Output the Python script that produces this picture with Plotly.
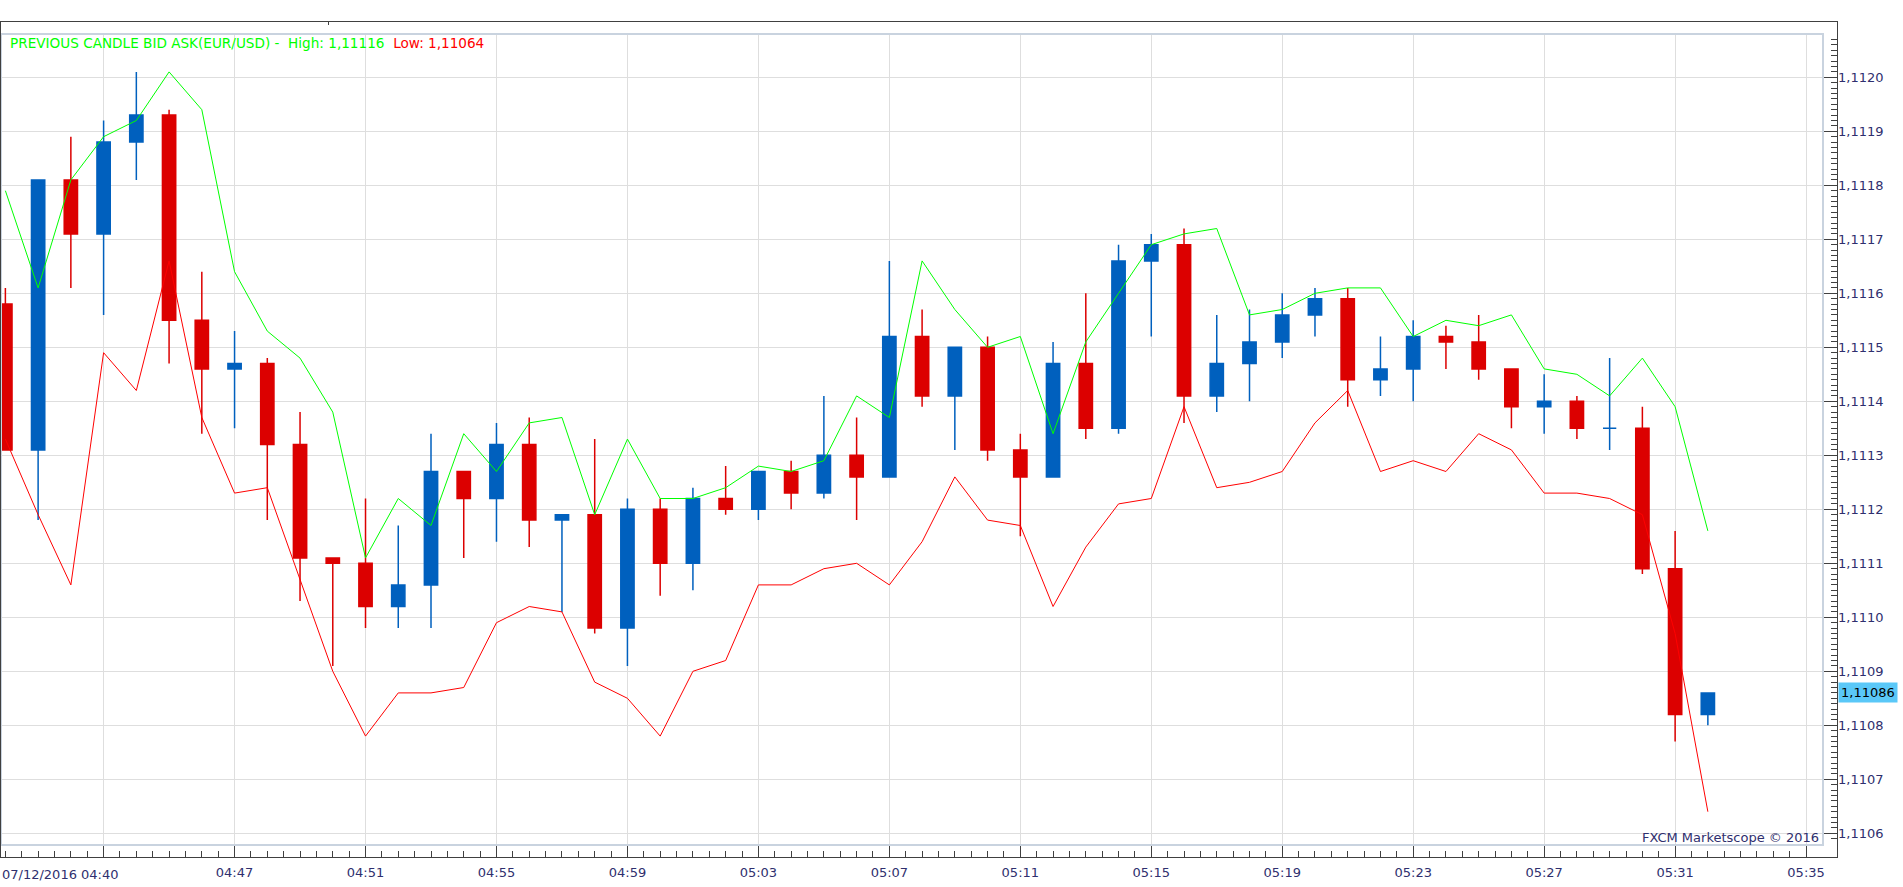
import plotly.graph_objects as go
import pandas as pd

# ---------------- data ----------------
DAY = "2016-07-12 "
times = ["04:40", "04:41", "04:42", "04:43", "04:44", "04:45", "04:46", "04:47", "04:48", "04:49",
         "04:50", "04:51", "04:52", "04:53", "04:54", "04:55", "04:56", "04:57", "04:58", "04:59",
         "05:00", "05:01", "05:02", "05:03", "05:04", "05:05", "05:06", "05:07", "05:08", "05:09",
         "05:10", "05:11", "05:12", "05:13", "05:14", "05:15", "05:16", "05:17", "05:18", "05:19",
         "05:20", "05:21", "05:22", "05:23", "05:24", "05:25", "05:26", "05:27", "05:28", "05:29",
         "05:30", "05:31", "05:32"]

open_ = [1.11158, 1.11131, 1.11181, 1.11171, 1.11188, 1.11193, 1.11155, 1.11146, 1.11147, 1.11132,
         1.11111, 1.11110, 1.11102, 1.11106, 1.11127, 1.11122, 1.11132, 1.11118, 1.11119, 1.11098,
         1.11120, 1.11110, 1.11122, 1.11120, 1.11127, 1.11123, 1.11130, 1.11126, 1.11152, 1.11141,
         1.11150, 1.11131, 1.11126, 1.11147, 1.11135, 1.11166, 1.11169, 1.11141, 1.11147, 1.11151,
         1.11156, 1.11159, 1.11144, 1.11146, 1.11152, 1.11151, 1.11146, 1.11139, 1.11140, 1.11135,
         1.11135, 1.11109, 1.11082]
high = [1.11161, 1.11181, 1.11189, 1.11192, 1.11201, 1.11194, 1.11164, 1.11153, 1.11148, 1.11138,
        1.11111, 1.11122, 1.11117, 1.11134, 1.11127, 1.11136, 1.11137, 1.11119, 1.11133, 1.11122,
        1.11122, 1.11124, 1.11128, 1.11127, 1.11129, 1.11141, 1.11137, 1.11166, 1.11157, 1.11150,
        1.11152, 1.11134, 1.11151, 1.11160, 1.11169, 1.11171, 1.11172, 1.11156, 1.11157, 1.11160,
        1.11161, 1.11161, 1.11152, 1.11155, 1.11154, 1.11156, 1.11146, 1.11145, 1.11141, 1.11148,
        1.11139, 1.11116, 1.11086]
low = [1.11131, 1.11118, 1.11161, 1.11156, 1.11181, 1.11147, 1.11134, 1.11135, 1.11118, 1.11103,
       1.11091, 1.11098, 1.11098, 1.11098, 1.11111, 1.11114, 1.11113, 1.11101, 1.11097, 1.11091,
       1.11104, 1.11105, 1.11119, 1.11118, 1.11120, 1.11122, 1.11118, 1.11126, 1.11139, 1.11131,
       1.11129, 1.11115, 1.11126, 1.11133, 1.11134, 1.11152, 1.11136, 1.11138, 1.11140, 1.11148,
       1.11152, 1.11139, 1.11141, 1.11140, 1.11146, 1.11144, 1.11135, 1.11134, 1.11133, 1.11131,
       1.11108, 1.11077, 1.11080]
close = [1.11131, 1.11181, 1.11171, 1.11188, 1.11193, 1.11155, 1.11146, 1.11147, 1.11132, 1.11111,
         1.11110, 1.11102, 1.11106, 1.11127, 1.11122, 1.11132, 1.11118, 1.11119, 1.11098, 1.11120,
         1.11110, 1.11122, 1.11120, 1.11127, 1.11123, 1.11130, 1.11126, 1.11152, 1.11141, 1.11150,
         1.11131, 1.11126, 1.11147, 1.11135, 1.11166, 1.11169, 1.11141, 1.11147, 1.11151, 1.11156,
         1.11159, 1.11144, 1.11146, 1.11152, 1.11151, 1.11146, 1.11139, 1.11140, 1.11135, 1.11135,
         1.11109, 1.11082, 1.11086]
# candles drawn in the "up" colour although open == close (doji)
doji_up = ["05:29"]

# PREVIOUS CANDLE BID ASK indicator lines
prev_high = [1.11179, 1.11161, 1.11181, 1.11189, 1.11192, 1.11201, 1.11194, 1.11164, 1.11153, 1.11148,
             1.11138, 1.11111, 1.11122, 1.11117, 1.11134, 1.11127, 1.11136, 1.11137, 1.11119, 1.11133,
             1.11122, 1.11122, 1.11124, 1.11128, 1.11127, 1.11129, 1.11141, 1.11137, 1.11166, 1.11157,
             1.11150, 1.11152, 1.11134, 1.11151, 1.11160, 1.11169, 1.11171, 1.11172, 1.11156, 1.11157,
             1.11160, 1.11161, 1.11161, 1.11152, 1.11155, 1.11154, 1.11156, 1.11146, 1.11145, 1.11141,
             1.11148, 1.11139, 1.11116]
prev_low = [1.11133, 1.11119, 1.11106, 1.11149, 1.11142, 1.11166, 1.11137, 1.11123, 1.11124, 1.11107,
            1.11090, 1.11078, 1.11086, 1.11086, 1.11087, 1.11099, 1.11102, 1.11101, 1.11088, 1.11085,
            1.11078, 1.11090, 1.11092, 1.11106, 1.11106, 1.11109, 1.11110, 1.11106, 1.11114, 1.11126,
            1.11118, 1.11117, 1.11102, 1.11113, 1.11121, 1.11122, 1.11139, 1.11124, 1.11125, 1.11127,
            1.11136, 1.11142, 1.11127, 1.11129, 1.11127, 1.11134, 1.11131, 1.11123, 1.11123, 1.11122,
            1.11119, 1.11097, 1.11064]

legend_high = "1,11116"
legend_low = "1,11064"
last_price = 1.11086
last_price_text = "1,11086"

tick_times = ["04:43", "04:47", "04:51", "04:55", "04:59", "05:03", "05:07", "05:11", "05:15",
              "05:19", "05:23", "05:27", "05:31", "05:35"]
tick_text = ["", "04:47", "04:51", "04:55", "04:59", "05:03", "05:07", "05:11", "05:15",
             "05:19", "05:23", "05:27", "05:31", "05:35"]
first_label = "07/12/2016 04:40"

# ---------------- styling / geometry ----------------
W, H = 1903, 887
X_PLOT_R, X_AXIS = 1823, 1837
Y_PLOT_T, Y_PLOT_B, Y_AXIS, Y_FRAME_T = 34, 845, 857, 21
PW, PH = X_AXIS, Y_AXIS - Y_PLOT_T

BLUE = "#0060be"
RED = "#dc0000"
GREEN_LINE = "#00ff00"
RED_LINE = "#ff0000"
NAVY = "#2f2f6e"
FRAME = "#404040"
INNER = "#c9d3df"
GRID = "#dedede"
FONT = "DejaVu Sans"
FS = 13
FS_LEGEND = 13.6


def px_x(x):
    return x / PW


def px_y(y):
    return (Y_AXIS - y) / PH


x = [pd.Timestamp(DAY + t) for t in times]
t_first = pd.Timestamp(DAY + times[0])
PX_PER_MIN = 32.74
X0_PX = 5.38
x_lo = t_first - pd.Timedelta(minutes=X0_PX / PX_PER_MIN)
x_hi = t_first + pd.Timedelta(minutes=(X_PLOT_R - X0_PX) / PX_PER_MIN)
y_hi = 1.1120 + (77.3 - Y_PLOT_T) / 540000.0
y_lo = 1.1120 - (Y_PLOT_B - 77.3) / 540000.0

main_idx = [i for i, t in enumerate(times) if t not in doji_up]
doji_idx = [i for i, t in enumerate(times) if t in doji_up]


def pick(arr, idx):
    return [arr[i] for i in idx]


fig = go.Figure()
fig.add_trace(go.Candlestick(
    x=pick(x, main_idx), open=pick(open_, main_idx), high=pick(high, main_idx),
    low=pick(low, main_idx), close=pick(close, main_idx),
    increasing=dict(line=dict(color=BLUE, width=1.5), fillcolor=BLUE),
    decreasing=dict(line=dict(color=RED, width=1.5), fillcolor=RED),
    whiskerwidth=0, hoverinfo="skip", showlegend=False))
fig.add_trace(go.Candlestick(
    x=pick(x, doji_idx), open=pick(open_, doji_idx), high=pick(high, doji_idx),
    low=pick(low, doji_idx), close=pick(close, doji_idx),
    increasing=dict(line=dict(color=BLUE, width=1.5), fillcolor=BLUE),
    decreasing=dict(line=dict(color=BLUE, width=1.5), fillcolor=BLUE),
    whiskerwidth=0, hoverinfo="skip", showlegend=False))
fig.add_trace(go.Scatter(x=x, y=prev_high, mode="lines", line=dict(color=GREEN_LINE, width=1),
                         hoverinfo="skip", showlegend=False))
fig.add_trace(go.Scatter(x=x, y=prev_low, mode="lines", line=dict(color=RED_LINE, width=1),
                         hoverinfo="skip", showlegend=False))

shapes = [
    # inner plot border
    dict(type="rect", xref="paper", yref="paper", x0=px_x(1), x1=px_x(X_PLOT_R),
         y0=px_y(Y_PLOT_B), y1=px_y(Y_PLOT_T), line=dict(color=INNER, width=2), layer="above"),
    # outer frame
    dict(type="line", xref="paper", yref="paper", x0=0, x1=px_x(X_AXIS + 0.5),
         y0=px_y(Y_FRAME_T + 0.5), y1=px_y(Y_FRAME_T + 0.5), line=dict(color=FRAME, width=1)),
    dict(type="line", xref="paper", yref="paper", x0=px_x(0.5), x1=px_x(0.5),
         y0=px_y(Y_FRAME_T), y1=px_y(Y_AXIS), line=dict(color=FRAME, width=1)),
    dict(type="line", xref="paper", yref="paper", x0=px_x(X_AXIS + 0.5), x1=px_x(X_AXIS + 0.5),
         y0=px_y(Y_FRAME_T), y1=px_y(Y_AXIS + 1), line=dict(color=FRAME, width=1)),
    dict(type="line", xref="paper", yref="paper", x0=0, x1=px_x(X_AXIS + 1),
         y0=px_y(Y_AXIS + 0.5), y1=px_y(Y_AXIS + 0.5), line=dict(color=FRAME, width=1)),
    dict(type="line", xref="paper", yref="paper", x0=px_x(328.5), x1=px_x(328.5),
         y0=px_y(Y_FRAME_T), y1=px_y(Y_FRAME_T + 4), line=dict(color=FRAME, width=1)),
]

legend_text = ("<span style='color:%s'>PREVIOUS CANDLE BID ASK(EUR/USD) -\u00a0\u00a0High: %s</span>"
               "\u00a0\u00a0<span style='color:%s'>Low: %s</span>") % (GREEN_LINE, legend_high, RED_LINE, legend_low)

annotations = [
    dict(text=legend_text, xref="paper", yref="paper", x=px_x(8), y=px_y(43),
         xanchor="left", yanchor="middle", showarrow=False, font=dict(family=FONT, size=FS_LEGEND)),
    dict(text=first_label, xref="paper", yref="paper", x=px_x(0), y=px_y(874),
         xanchor="left", yanchor="middle", showarrow=False, font=dict(family=FONT, size=FS, color=NAVY)),
    dict(text="FXCM Marketscope \u00a9 2016", xref="paper", yref="paper", x=px_x(1821), y=px_y(837),
         xanchor="right", yanchor="middle", showarrow=False, font=dict(family=FONT, size=FS, color=NAVY)),
    dict(text=last_price_text, xref="paper", yref="y", x=px_x(X_AXIS + 0.5), y=last_price,
         xanchor="left", yanchor="middle", showarrow=False, bgcolor="#5ac8f8", borderpad=2,
         font=dict(family=FONT, size=FS, color="#000000")),
]

fig.update_layout(
    width=W, height=H,
    margin=dict(l=0, r=W - X_AXIS, t=Y_PLOT_T, b=H - Y_AXIS, pad=0),
    paper_bgcolor="white", plot_bgcolor="white",
    separators=", ",
    boxgap=0.42,
    showlegend=False,
    font=dict(family=FONT, size=FS, color=NAVY),
    shapes=shapes, annotations=annotations,
    xaxis=dict(
        type="date", range=[x_lo, x_hi], domain=[0, X_PLOT_R / PW],
        anchor="free", position=0,
        rangeslider=dict(visible=False),
        tickmode="array", tickvals=[pd.Timestamp(DAY + t) for t in tick_times], ticktext=tick_text,
        ticks="inside", ticklen=12, tickcolor=FRAME, tickwidth=1,
        showgrid=True, gridcolor=GRID, gridwidth=1, zeroline=False, showline=False,
        tickfont=dict(family=FONT, size=FS, color=NAVY),
        ticklabelstandoff=6,
        minor=dict(dtick=30000, tick0=t_first, ticks="inside", ticklen=6, tickcolor=FRAME, showgrid=False),
        fixedrange=True,
    ),
    yaxis=dict(
        range=[y_lo, y_hi], domain=[(Y_AXIS - Y_PLOT_B) / PH, 1],
        anchor="free", position=1, side="right",
        tickmode="linear", tick0=1.1100, dtick=0.0001, tickformat=".4f",
        ticks="inside", ticklen=14, tickcolor=FRAME, tickwidth=1,
        showgrid=True, gridcolor=GRID, gridwidth=1, zeroline=False, showline=False,
        tickfont=dict(family=FONT, size=FS, color=NAVY),
        minor=dict(dtick=0.00001, tick0=1.1100, ticks="inside", ticklen=6, tickcolor=FRAME, showgrid=False),
        fixedrange=True,
    ),
)

fig.write_html("out.html", config={"displayModeBar": False})
